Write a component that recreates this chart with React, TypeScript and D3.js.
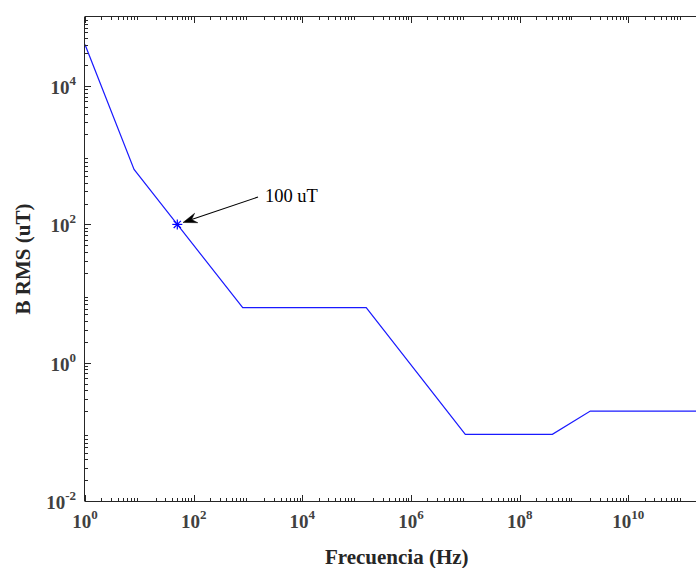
import React from "react";
import * as d3 from "d3";

// ICNIRP-style reference level curve: frequency (Hz) vs B RMS (uT)
const freqs = [1, 8, 25, 800, 150e3, 1e7, 4e8, 2e9, 3e11];
const bRms = [4e4, 625, 200, 6.25, 6.25, 0.092, 0.092, 0.2, 0.2];

const xTickExps = [0, 2, 4, 6, 8, 10];
const yTickExps = [-2, 0, 2, 4];

const markFreq = [50];
const markB = [100];
const annText = "100 uT";
const annTailFreq = 1528;
const annTailB = 249;
const annTextFreq = 2056;

const xLabel = "Frecuencia (Hz)";
const yLabel = "B RMS (uT)";

const W = 696;
const H = 568;
const left = 85;
const bottom = 501;
const top = 17;
const pxPerDecX = 54.33;

const x = d3
  .scaleLog()
  .domain([1, 3e11])
  .range([left, left + Math.log10(3e11) * pxPerDecX]);
const y = d3.scaleLog().domain([1e-2, 1e5]).range([bottom, top]);

const FONT = "'Liberation Serif', 'Times New Roman', serif";
const AX = "#262626";

function minorTicks(domain: [number, number], evenOnly: boolean) {
  const out: { v: number; major: boolean }[] = [];
  const d0 = Math.floor(Math.log10(domain[0]));
  const d1 = Math.ceil(Math.log10(domain[1]));
  for (let d = d0; d <= d1; d++) {
    const base = Math.pow(10, d);
    if (base >= domain[0] && base <= domain[1] && (d % 2 === 0 || !evenOnly)) {
      out.push({ v: base, major: d % 2 === 0 });
    }
    for (let k = 2; k <= 9; k++) {
      const v = k * base;
      if (v >= domain[0] && v <= domain[1]) out.push({ v, major: false });
    }
  }
  return out;
}

export default function App() {
  const line = d3
    .line<number>()
    .x((_, i) => x(freqs[i]))
    .y((_, i) => y(bRms[i]));
  const pathD = line(freqs.map((_, i) => i)) || "";

  const xt = minorTicks(x.domain() as [number, number], true);
  const yt = minorTicks(y.domain() as [number, number], true);
  const xr = x.range()[1];

  const mx = x(markFreq[0]);
  const my = y(markB[0]);
  const tx = x(annTailFreq);
  const ty = y(annTailB);
  const dx = mx - tx;
  const dy = my - ty;
  const len = Math.hypot(dx, dy);
  const ux = dx / len;
  const uy = dy / len;
  const tipX = mx - ux * 6;
  const tipY = my - uy * 6;
  const hl = 14;
  const hw = 5;
  const px = -uy;
  const py = ux;
  const bx = tipX - ux * hl;
  const by = tipY - uy * hl;
  const ix = tipX - ux * hl * 0.65;
  const iy = tipY - uy * hl * 0.65;
  const head = `M${tipX},${tipY} L${bx + px * hw},${by + py * hw} L${ix},${iy} L${bx - px * hw},${by - py * hw} Z`;

  const as = 5;
  const ad = 3.6;

  return (
    <svg
      width={W}
      height={H}
      style={{ position: "absolute", left: 0, top: 0, background: "#fff" }}
      fontFamily={FONT}
    >
      <defs>
        <clipPath id="plotclip">
          <rect x={left} y={top} width={W - left} height={bottom - top} />
        </clipPath>
      </defs>
      <rect x={0} y={0} width={W} height={H} fill="#fff" />

      {/* data line */}
      <g clipPath="url(#plotclip)">
        <path d={pathD} fill="none" stroke="#1a1aff" strokeWidth={1.2} />
      </g>

      {/* marker */}
      <g stroke="#0000ff" strokeWidth={1.2}>
        <line x1={mx - as} y1={my} x2={mx + as} y2={my} />
        <line x1={mx} y1={my - as} x2={mx} y2={my + as} />
        <line x1={mx - ad} y1={my - ad} x2={mx + ad} y2={my + ad} />
        <line x1={mx - ad} y1={my + ad} x2={mx + ad} y2={my - ad} />
      </g>

      {/* annotation */}
      <line x1={tx} y1={ty} x2={ix} y2={iy} stroke="#000" strokeWidth={1.1} />
      <path d={head} fill="#000" stroke="#000" strokeWidth={0.5} />
      <text x={x(annTextFreq)} y={ty + 5} fontSize={18.5} fill="#000">
        {annText}
      </text>

      {/* axes box */}
      <g stroke={AX} strokeWidth={1}>
        <line x1={left} y1={bottom + 0.5} x2={xr} y2={bottom + 0.5} />
        <line x1={left} y1={top - 0.5} x2={xr} y2={top - 0.5} />
        <line x1={left - 0.5} y1={top - 0.5} x2={left - 0.5} y2={bottom + 0.5} />
        <line x1={xr} y1={top} x2={xr} y2={bottom} />
      </g>

      {/* x ticks */}
      <g stroke={AX} strokeWidth={1}>
        {xt.map((t, i) => {
          const p = Math.round(x(t.v)) + 0.5;
          const l = t.major ? 6 : 3;
          return (
            <g key={i}>
              <line x1={p} y1={bottom} x2={p} y2={bottom - l} />
              <line x1={p} y1={top} x2={p} y2={top + l} />
            </g>
          );
        })}
      </g>
      {/* y ticks */}
      <g stroke={AX} strokeWidth={1}>
        {yt.map((t, i) => {
          const p = Math.round(y(t.v)) + 0.5;
          const l = t.major ? 6 : 3;
          return <line key={i} x1={left} y1={p} x2={left + l} y2={p} />;
        })}
      </g>

      {/* x tick labels */}
      {xTickExps.map((e) => (
        <text
          key={e}
          x={x(Math.pow(10, e))}
          y={528}
          fontSize={19}
          fontWeight="bold"
          fill="#404040"
          textAnchor="middle"
        >
          10
          <tspan fontSize={13} dy={-9}>
            {e}
          </tspan>
        </text>
      ))}

      {/* y tick labels */}
      {yTickExps.map((e) => (
        <text
          key={e}
          x={76}
          y={y(Math.pow(10, e)) + 8}
          fontSize={19}
          fontWeight="bold"
          fill="#404040"
          textAnchor="end"
        >
          10
          <tspan fontSize={13} dy={-9}>
            {e}
          </tspan>
        </text>
      ))}

      {/* axis labels */}
      <text
        x={(left + xr) / 2}
        y={564}
        fontSize={21}
        fontWeight="bold"
        fill="#262626"
        textAnchor="middle"
      >
        {xLabel}
      </text>
      <text
        transform={`translate(30, ${(top + bottom) / 2}) rotate(-90)`}
        fontSize={21}
        fontWeight="bold"
        fill="#262626"
        textAnchor="middle"
      >
        {yLabel}
      </text>
    </svg>
  );
}
